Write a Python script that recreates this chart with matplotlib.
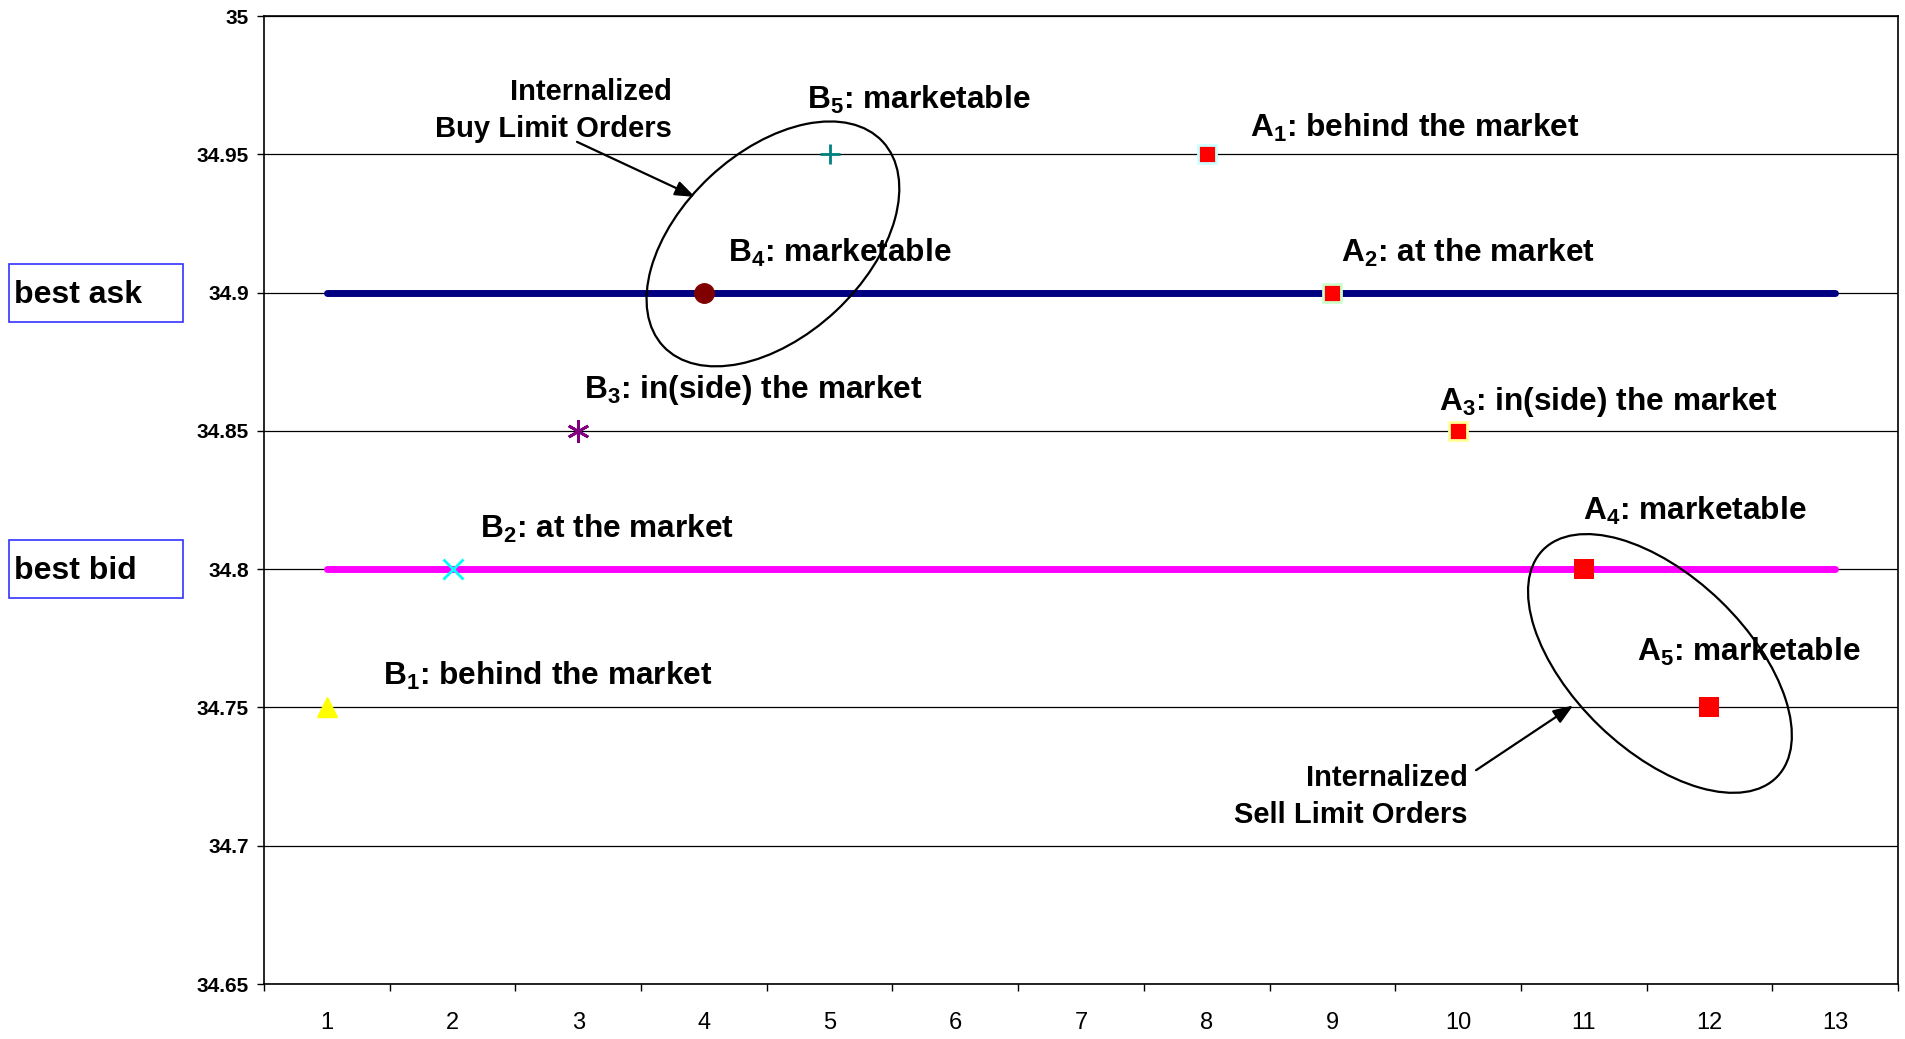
import matplotlib
matplotlib.use("Agg")
import matplotlib.pyplot as plt
import matplotlib.transforms as mtransforms
from matplotlib.patches import Ellipse, Rectangle

plt.rcParams['font.family'] = ['Liberation Sans', 'DejaVu Sans']
plt.rcParams['mathtext.fontset'] = 'custom'
plt.rcParams['mathtext.rm'] = 'Liberation Sans:bold'
plt.rcParams['mathtext.bf'] = 'Liberation Sans:bold'
plt.rcParams['mathtext.default'] = 'rm'

# quote levels over time
periods = [1, 2, 3, 4, 5, 6, 7, 8, 9, 10, 11, 12, 13]
best_ask = [34.9, 34.9, 34.9, 34.9, 34.9, 34.9, 34.9, 34.9, 34.9, 34.9, 34.9, 34.9, 34.9]
best_bid = [34.8, 34.8, 34.8, 34.8, 34.8, 34.8, 34.8, 34.8, 34.8, 34.8, 34.8, 34.8, 34.8]

# incoming limit orders
buy_names = ['B1', 'B2', 'B3', 'B4', 'B5']
buy_x = [1, 2, 3, 4, 5]
buy_price = [34.75, 34.8, 34.85, 34.9, 34.95]
buy_desc = ['behind the market', 'at the market', 'in(side) the market', 'marketable', 'marketable']

sell_names = ['A1', 'A2', 'A3', 'A4', 'A5']
sell_x = [8, 9, 10, 11, 12]
sell_price = [34.95, 34.9, 34.85, 34.8, 34.75]
sell_desc = ['behind the market', 'at the market', 'in(side) the market', 'marketable', 'marketable']

y_ticks = [34.65, 34.7, 34.75, 34.8, 34.85, 34.9, 34.95, 35]

fig = plt.figure(figsize=(19.05, 10.39), dpi=100)
ax = fig.add_axes([264 / 1905, 1 - 984 / 1039, (1898 - 264) / 1905, (984 - 16) / 1039])

ax.set_xlim(0.5, 13.5)
ax.set_ylim(34.65, 35)

# axes / grid
ax.set_yticks(y_ticks)
ax.set_yticklabels(['%g' % v for v in y_ticks], fontsize=15, fontweight='bold')
ax.set_xticks(periods)
ax.set_xticklabels([str(p) for p in periods], fontsize=17)
ax.set_xticks([p - 0.5 for p in periods] + [13.5], minor=True)
ax.tick_params(axis='x', which='major', length=0, pad=20)
ax.tick_params(axis='x', which='minor', length=5, width=1, direction='out')
ax.tick_params(axis='y', length=5, width=1, direction='out', pad=6)
ax.yaxis.grid(True, color='black', lw=0.9)
ax.set_axisbelow(True)
for s in ax.spines.values():
    s.set_color('black')
    s.set_linewidth(1.2)

# best ask / best bid
ax.plot(periods, best_ask, color='#000080', lw=5, solid_capstyle='round', zorder=2)
ax.plot(periods, best_bid, color='#ff00ff', lw=5, solid_capstyle='round', zorder=2)

# buy orders
buy_styles = [
    dict(marker='^', color='#ffff00', ms=14),
    dict(marker='x', color='#00ffff', ms=14, mew=2),
    dict(marker=(6, 2, 0), color='#800080', ms=16, mew=2),
    dict(marker='o', color='#800000', ms=14),
    dict(marker='+', color='#008080', ms=14, mew=2),
]
for x, y, st in zip(buy_x, buy_price, buy_styles):
    ax.plot([x], [y], ls='none', zorder=4, **st)

# sell orders
sell_edges = ['#ccffff', '#ccffcc', '#ffff99', '#ff0000', '#ff0000']
for i, (x, y, ec) in enumerate(zip(sell_x, sell_price, sell_edges)):
    if i < 3:
        ax.plot([x], [y], ls='none', marker='s', ms=13, mfc='#ff0000', mec=ec, mew=2, zorder=4)
    else:
        ax.plot([x], [y], ls='none', marker='s', ms=15, mfc='#ff0000', mec=ec, mew=0, zorder=4)

# order labels
buy_pos = [(1.449, 34.7582), (2.218, 34.8113), (3.046, 34.8618), (4.194, 34.9112), (4.817, 34.9664)]
sell_pos = [(8.344, 34.9563), (9.066, 34.9112), (9.85, 34.8576), (10.99, 34.8179), (11.425, 34.7669)]
for names, descs, pos in [(buy_names, buy_desc, buy_pos), (sell_names, sell_desc, sell_pos)]:
    for n, d, (tx, ty) in zip(names, descs, pos):
        ax.text(tx, ty, r'$%s_%s$: %s' % (n[0], n[1], d), fontsize=22.8, fontweight='bold',
                ha='left', va='baseline', zorder=5)

# internalized groups
def ring(xc, yc, w, h, angle):
    tr = fig.dpi_scale_trans + mtransforms.ScaledTranslation(xc, yc, ax.transData)
    ax.add_patch(Ellipse((0, 0), w, h, angle=angle, transform=tr, fill=False,
                         lw=1.6, ec='black', zorder=6, clip_on=False))

ring(4.549, 34.9176, 3.0, 1.84, 43)
ring(11.606, 34.7659, 3.26, 1.74, -44)

ax.text(3.743, 34.9562, 'Internalized\nBuy Limit Orders', fontsize=21, fontweight='bold',
        ha='right', va='baseline', multialignment='right', linespacing=1.42, zorder=5)
ax.text(10.078, 34.7083, 'Internalized\nSell Limit Orders', fontsize=21, fontweight='bold',
        ha='right', va='baseline', multialignment='right', linespacing=1.42, zorder=5)

arrow = dict(arrowstyle='-|>,head_length=0.4,head_width=0.15', mutation_scale=30,
             lw=1.6, color='black', shrinkA=0, shrinkB=0)
ax.annotate('', xy=(3.929, 34.9346), xytext=(2.990, 34.9545), arrowprops=arrow, zorder=6)
ax.annotate('', xy=(10.916, 34.7507), xytext=(10.143, 34.7273), arrowprops=arrow, zorder=6)

# side boxes for the quote lines
side = mtransforms.blended_transform_factory(fig.transFigure, ax.transData)
box_h = 0.021
for level, txt in [(34.9, 'best ask'), (34.8, 'best bid')]:
    ax.add_patch(Rectangle((9 / 1905, level - box_h / 2), 174 / 1905, box_h, transform=side,
                           fill=False, ec='#3333ff', lw=1.2, clip_on=False))
    ax.text(14 / 1905, level - 0.0036, txt, transform=side, fontsize=23, fontweight='bold',
            ha='left', va='baseline')

fig.savefig('out.png', dpi=100)
